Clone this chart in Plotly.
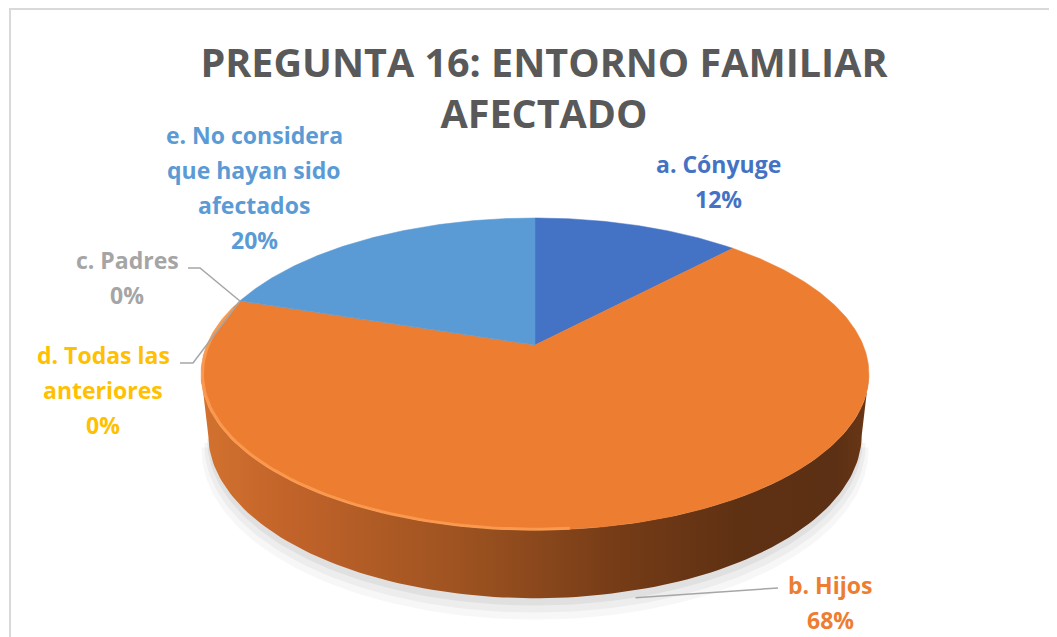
import numpy as np
import plotly.graph_objects as go

W, H = 1057, 637
OFF = 8  # page body margin: data coordinates below are screen pixels

# ---------------- data ----------------
title_text = "PREGUNTA 16: ENTORNO FAMILIAR<br>AFECTADO"
categories = ["a. Cónyuge", "b. Hijos", "c. Padres", "d. Todas las anteriores",
              "e. No considera que hayan sido afectados"]
values = [12, 68, 0, 0, 20]
label_lines = [["a. Cónyuge"], ["b. Hijos"], ["c. Padres"],
               ["d. Todas las", "anteriores"],
               ["e. No considera", "que hayan sido", "afectados"]]
colors = ["#4472C4", "#ED7D31", "#A5A5A5", "#FFC000", "#5B9BD5"]

# ---------------- layout constants (positions / styles) ----------------
CX, CY = 535, 345            # projected centre of top face (px)
SIN_A = 0.47                 # camera elevation
COS_A = float(np.sqrt(1 - SIN_A ** 2))
DIST = 4.745                 # camera distance
SX, SY = 1557, 1521          # projection scales
DEPTH = 0.215                # pie thickness
label_x = [718, 830, 127, 103, 254]
label_base = [172, 593, 268, 363, 143]
LINE_GAP = 35
LABEL_FS = 23
leader_elbows = {1: [(778, 588)], 2: [(188, 268), (200, 268)], 3: [(180, 363), (193, 363)]}
side_scale = [[0.0, "#d3722f"], [0.12, "#c3642a"], [0.4, "#9c5220"], [0.62, "#763c17"],
              [0.8, "#5f3113"], [0.95, "#5c3014"], [1.0, "#6a3716"]]


def proj(phi_deg, r=1.0, y=0.0):
    phi = np.radians(phi_deg)
    X = r * np.sin(phi)
    Z = r * np.cos(phi)
    d = DIST + Z * COS_A - y * SIN_A
    u = SX * X / d
    v = SY * (Z * SIN_A + y * COS_A) / d
    return CX + u, CY - v


total = sum(values)
fracs = [v / total for v in values]
starts = np.concatenate([[0], np.cumsum(fracs)[:-1]]) * 360
ends = np.cumsum(fracs) * 360

fig = go.Figure()

# soft shadow under the pie
for r, dy, op in [(1.025, 0.05, 0.03), (1.015, 0.035, 0.04), (1.005, 0.02, 0.05)]:
    ph = np.linspace(100, 260, 120)
    px, py = proj(ph, r=r, y=-DEPTH - dy)
    fig.add_trace(go.Scatter(x=px, y=py, mode="lines", fill="toself",
                             fillcolor=f"rgba(0,0,0,{op})", line=dict(width=0),
                             hoverinfo="skip", showlegend=False))

# visible side walls
vis_lo = np.degrees(np.arccos(-COS_A / DIST))
vis_hi = 360 - vis_lo
for i, (s, e) in enumerate(zip(starts, ends)):
    a, b = max(s, vis_lo), min(e, vis_hi)
    if b <= a:
        continue
    ph = np.linspace(a, b, 120)
    tx, ty = proj(ph)
    bx, by = proj(ph[::-1], y=-DEPTH)
    xs = np.concatenate([tx, bx, tx[:1]])
    ys = np.concatenate([ty, by, ty[:1]])
    if i == 1:
        fig.add_trace(go.Scatter(x=xs, y=ys, mode="lines", fill="toself",
                                 fillgradient=dict(type="horizontal", colorscale=side_scale),
                                 line=dict(width=0), hoverinfo="skip", showlegend=False))
    else:
        fig.add_trace(go.Scatter(x=xs, y=ys, mode="lines", fill="toself",
                                 fillcolor=colors[i], line=dict(width=0),
                                 hoverinfo="skip", showlegend=False))

# top faces
for i, (s, e) in enumerate(zip(starts, ends)):
    if e - s <= 0:
        continue
    ph = np.linspace(s, e, max(3, int((e - s) * 2)))
    ax, ay = proj(ph)
    cx0, cy0 = proj(0, r=0)
    xs = np.concatenate([[cx0], ax, [cx0]])
    ys = np.concatenate([[cy0], ay, [cy0]])
    fig.add_trace(go.Scatter(x=xs, y=ys, mode="lines", fill="toself",
                             fillcolor=colors[i], line=dict(width=0.5, color=colors[i]),
                             hoverinfo="skip", showlegend=False, name=categories[i]))

# rim highlight on the front-left edge
ph = np.linspace(175, ends[1] - 3, 80)
hx, hy = proj(ph, r=0.996)
fig.add_trace(go.Scatter(x=hx, y=hy, mode="lines", line=dict(color="rgba(255,165,90,0.7)", width=3),
                         hoverinfo="skip", showlegend=False))

# leader lines
for i, elbows in leader_elbows.items():
    if i == 1:
        mid = (starts[i] + ends[i]) / 2
        ax_, ay_ = proj(mid, r=1.03, y=-DEPTH)
    else:
        ax_, ay_ = proj(starts[i], r=1.0)
    xs = [p[0] for p in elbows] + [ax_]
    ys = [p[1] for p in elbows] + [ay_]
    fig.add_trace(go.Scatter(x=xs, y=ys, mode="lines", line=dict(color="#A6A6A6", width=1.5),
                             hoverinfo="skip", showlegend=False))

# labels
annotations = []
for i in range(len(values)):
    lines = label_lines[i] + [f"{round(fracs[i] * 100)}%"]
    for j, txt in enumerate(lines):
        annotations.append(dict(
            x=label_x[i], y=label_base[i] + j * LINE_GAP - 0.36 * LABEL_FS,
            xref="x", yref="y", text=txt, showarrow=False,
            xanchor="center", yanchor="middle",
            font=dict(family="Open Sans", size=LABEL_FS, color=colors[i], weight="bold")))

fig.update_layout(
    width=W, height=H, autosize=False,
    margin=dict(l=0, r=0, t=0, b=0),
    paper_bgcolor="white", plot_bgcolor="white",
    title=dict(text=title_text, x=536 / W, xanchor="center", y=1 - 69 / H, yanchor="top",
               yref="container",
               font=dict(family="Open Sans", size=39.5, color="#595959", weight="bold")),
    xaxis=dict(range=[OFF, W + OFF], visible=False, fixedrange=True),
    yaxis=dict(range=[H + OFF, OFF], visible=False, fixedrange=True),
    annotations=annotations,
    shapes=[
        dict(type="line", xref="x", yref="y", x0=9, y0=9, x1=W + OFF, y1=9,
             line=dict(color="#D9D9D9", width=2)),
        dict(type="line", xref="x", yref="y", x0=10, y0=9, x1=10, y1=H + OFF,
             line=dict(color="#D9D9D9", width=2)),
    ],
    showlegend=False,
)

fig.write_html("out.html")
